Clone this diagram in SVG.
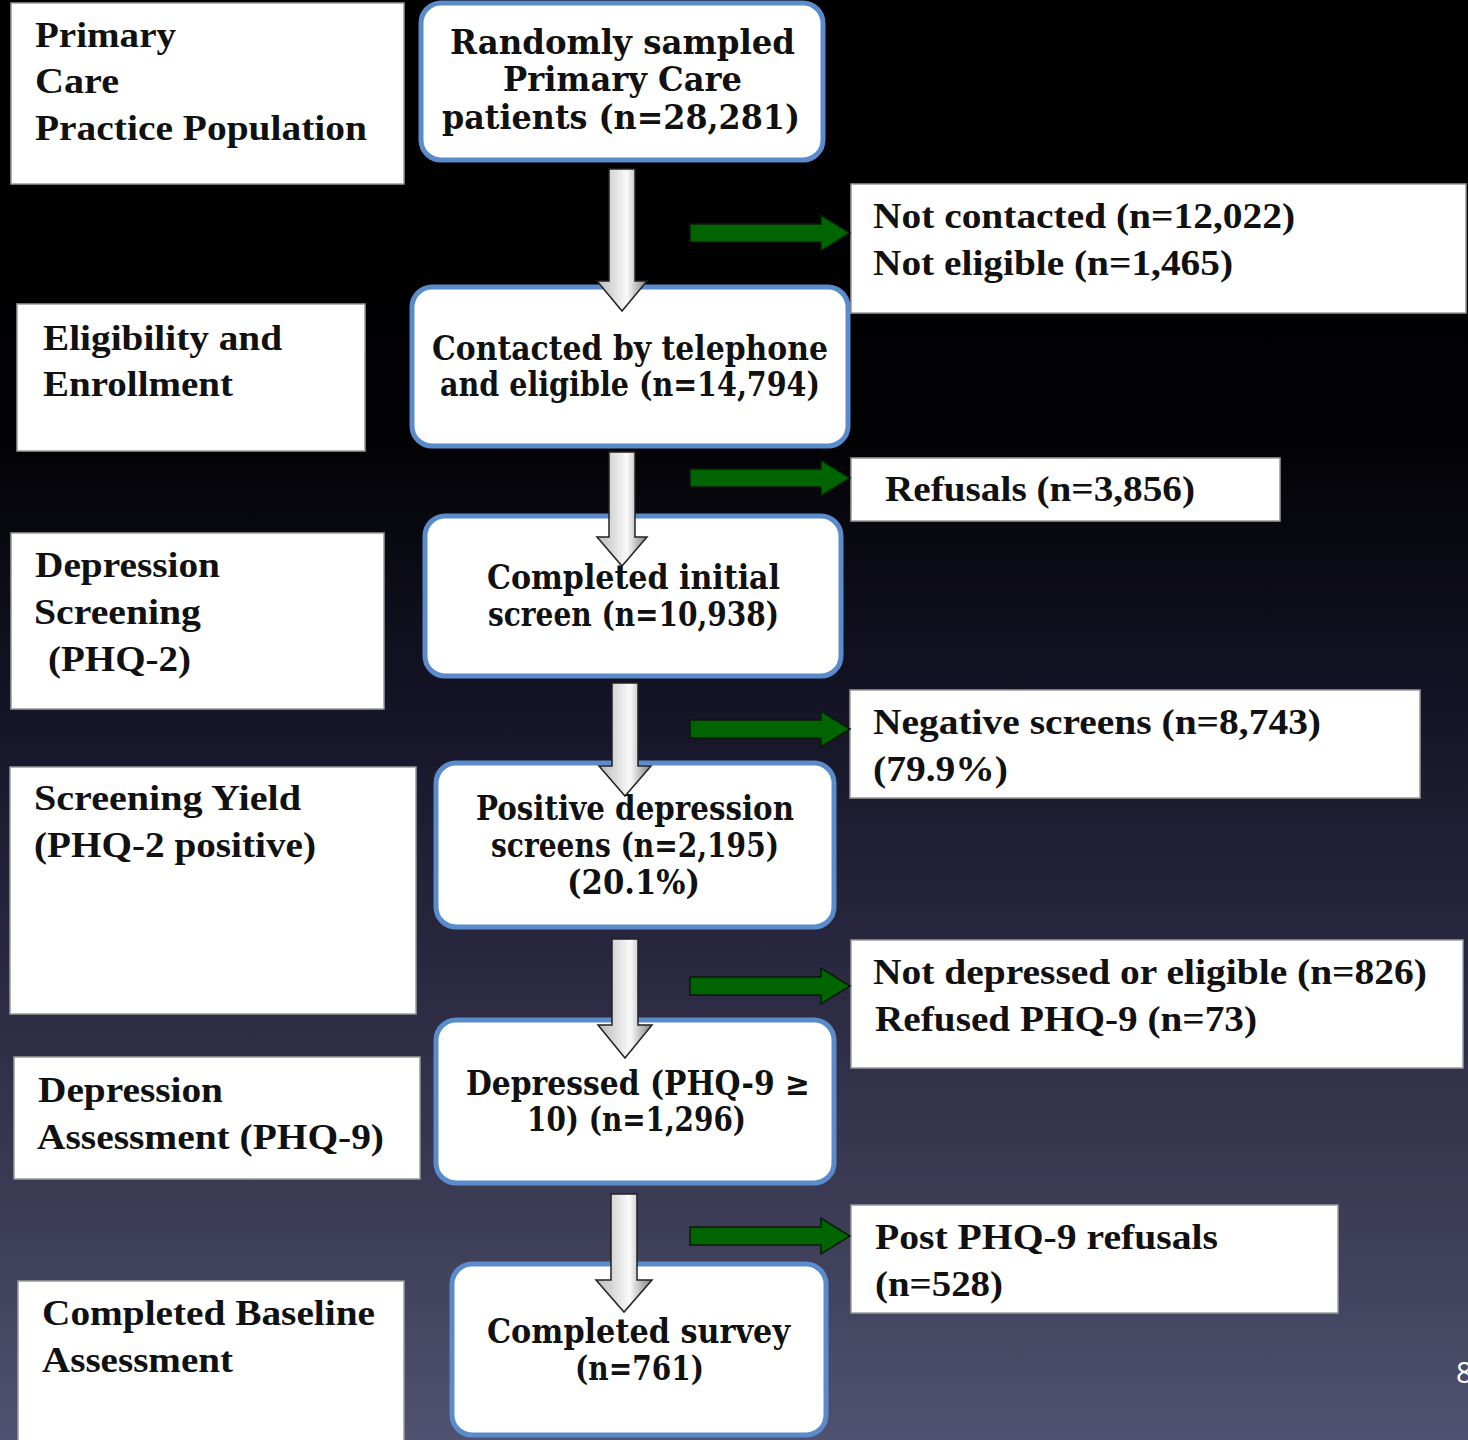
<svg xmlns="http://www.w3.org/2000/svg" width="1468" height="1440" viewBox="0 0 1468 1440">
<defs>
<linearGradient id="bg" x1="0" y1="0" x2="0" y2="1">
<stop offset="0" stop-color="#000000"/>
<stop offset="0.3" stop-color="#020204"/>
<stop offset="0.48" stop-color="#141325"/>
<stop offset="0.66" stop-color="#29273f"/>
<stop offset="0.85" stop-color="#3d3d57"/>
<stop offset="1" stop-color="#4f5270"/>
</linearGradient>
<linearGradient id="ga" x1="0" y1="0" x2="1" y2="0">
<stop offset="0" stop-color="#b8b8b8"/>
<stop offset="0.6" stop-color="#fafafa"/>
<stop offset="1" stop-color="#808080"/>
</linearGradient>
<style>
.lab{fill:#fff;stroke:#9a9a9a;stroke-width:1.5}
.mid{fill:#fff;stroke:#5a8ccc;stroke-width:5}
.t{font-family:'Liberation Serif',Tinos,'Times New Roman',Times,serif;font-weight:700;font-size:36px;fill:#111}
.m{font-family:'DejaVu Serif',serif;font-weight:700;font-size:33px;fill:#111}
.gray{fill:url(#ga);stroke:#222;stroke-width:1.5}
.green{fill:#006400;stroke:#0a1a0a;stroke-width:1.5}
</style>
</defs>
<rect x="0" y="0" width="1468" height="1440" fill="url(#bg)"/>

<g id="stage-primary-care">
<rect class="lab" x="11" y="3" width="393" height="181"/>
<text class="t" font-family="Liberation Serif" x="35" y="47" textLength="141" lengthAdjust="spacingAndGlyphs">Primary</text>
<text class="t" font-family="Liberation Serif" x="35" y="93" textLength="84" lengthAdjust="spacingAndGlyphs">Care</text>
<text class="t" font-family="Liberation Serif" x="35" y="140" textLength="332" lengthAdjust="spacingAndGlyphs">Practice Population</text>
</g>
<g id="stage-eligibility">
<rect class="lab" x="17" y="304" width="348" height="147"/>
<text class="t" x="43" y="350" textLength="239" lengthAdjust="spacingAndGlyphs">Eligibility and</text>
<text class="t" x="43" y="396" textLength="190" lengthAdjust="spacingAndGlyphs">Enrollment</text>
</g>
<g id="stage-screening">
<rect class="lab" x="11" y="533" width="373" height="176"/>
<text class="t" x="35" y="577" textLength="185" lengthAdjust="spacingAndGlyphs">Depression</text>
<text class="t" x="34" y="624" textLength="167" lengthAdjust="spacingAndGlyphs">Screening</text>
<text class="t" x="48" y="671" textLength="143" lengthAdjust="spacingAndGlyphs">(PHQ-2)</text>
</g>
<g id="stage-yield">
<rect class="lab" x="10" y="767" width="406" height="247"/>
<text class="t" x="34" y="810" textLength="267" lengthAdjust="spacingAndGlyphs">Screening Yield</text>
<text class="t" x="34" y="857" textLength="282" lengthAdjust="spacingAndGlyphs">(PHQ-2 positive)</text>
</g>
<g id="stage-assessment">
<rect class="lab" x="14" y="1057" width="406" height="122"/>
<text class="t" x="38" y="1102" textLength="185" lengthAdjust="spacingAndGlyphs">Depression</text>
<text class="t" x="37" y="1149" textLength="347" lengthAdjust="spacingAndGlyphs">Assessment (PHQ-9)</text>
</g>
<g id="stage-baseline">
<rect class="lab" x="18" y="1281" width="386" height="165"/>
<text class="t" x="42" y="1325" textLength="333" lengthAdjust="spacingAndGlyphs">Completed Baseline</text>
<text class="t" x="42" y="1372" textLength="191" lengthAdjust="spacingAndGlyphs">Assessment</text>
</g>

<g id="sampled">
<rect class="mid" x="421" y="3" width="402" height="157" rx="20"/>
<text class="m" x="450" y="54" textLength="345" lengthAdjust="spacingAndGlyphs">Randomly sampled</text>
<text class="m" x="503" y="91" textLength="239" lengthAdjust="spacingAndGlyphs">Primary Care</text>
<text class="m" x="442" y="129" textLength="358" lengthAdjust="spacingAndGlyphs">patients (n=28,281)</text>
</g>
<g id="contacted">
<rect class="mid" x="412" y="287" width="436" height="159" rx="20"/>
<text class="m" x="432" y="360" textLength="396" lengthAdjust="spacingAndGlyphs">Contacted by telephone</text>
<text class="m" x="440" y="396" textLength="380" lengthAdjust="spacingAndGlyphs">and eligible (n=14,794)</text>
</g>
<g id="initial-screen">
<rect class="mid" x="425" y="516" width="416" height="160" rx="20"/>
<text class="m" x="487" y="589" textLength="293" lengthAdjust="spacingAndGlyphs">Completed initial</text>
<text class="m" x="488" y="626" textLength="291" lengthAdjust="spacingAndGlyphs">screen (n=10,938)</text>
</g>
<g id="positive">
<rect class="mid" x="436" y="763" width="398" height="164" rx="20"/>
<text class="m" x="476" y="820" textLength="318" lengthAdjust="spacingAndGlyphs">Positive depression</text>
<text class="m" x="491" y="857" textLength="288" lengthAdjust="spacingAndGlyphs">screens (n=2,195)</text>
<text class="m" x="567" y="894" textLength="133" lengthAdjust="spacingAndGlyphs">(20.1%)</text>
</g>
<g id="depressed">
<rect class="mid" x="436" y="1020" width="398" height="163" rx="20"/>
<text class="m" x="466" y="1095" textLength="344" lengthAdjust="spacingAndGlyphs">Depressed (PHQ-9 ≥</text>
<text class="m" x="527" y="1131" textLength="219" lengthAdjust="spacingAndGlyphs">10) (n=1,296)</text>
</g>
<g id="survey">
<rect class="mid" x="452" y="1264" width="374" height="171" rx="20"/>
<text class="m" x="487" y="1343" textLength="303" lengthAdjust="spacingAndGlyphs">Completed survey</text>
<text class="m" x="575" y="1380" textLength="129" lengthAdjust="spacingAndGlyphs">(n=761)</text>
</g>

<g id="excl-contact">
<rect class="lab" x="851" y="184" width="615" height="129"/>
<text class="t" x="873" y="228" textLength="422" lengthAdjust="spacingAndGlyphs">Not contacted (n=12,022)</text>
<text class="t" x="873" y="275" textLength="360" lengthAdjust="spacingAndGlyphs">Not eligible (n=1,465)</text>
</g>
<g id="excl-refusals">
<rect class="lab" x="851" y="458" width="429" height="63"/>
<text class="t" x="885" y="501" textLength="310" lengthAdjust="spacingAndGlyphs">Refusals (n=3,856)</text>
</g>
<g id="excl-negative">
<rect class="lab" x="850" y="690" width="570" height="108"/>
<text class="t" x="873" y="734" textLength="448" lengthAdjust="spacingAndGlyphs">Negative screens (n=8,743)</text>
<text class="t" x="873" y="781" textLength="135" lengthAdjust="spacingAndGlyphs">(79.9%)</text>
</g>
<g id="excl-notdepressed">
<rect class="lab" x="851" y="940" width="612" height="128"/>
<text class="t" x="873" y="984" textLength="554" lengthAdjust="spacingAndGlyphs">Not depressed or eligible (n=826)</text>
<text class="t" x="875" y="1031" textLength="382" lengthAdjust="spacingAndGlyphs">Refused PHQ-9 (n=73)</text>
</g>
<g id="excl-post">
<rect class="lab" x="851" y="1205" width="487" height="108"/>
<text class="t" x="875" y="1249" textLength="343" lengthAdjust="spacingAndGlyphs">Post PHQ-9 refusals</text>
<text class="t" x="875" y="1296" textLength="128" lengthAdjust="spacingAndGlyphs">(n=528)</text>
</g>

<g id="connectors">
<path class="gray" d="M609,169 H635 V281 H647 L622,311 L597,281 H609 Z"/>
<path class="gray" d="M609,452 H635 V537 H647 L622,566 L597,537 H609 Z"/>
<path class="gray" d="M612,683 H638 V766 H651 L625,796 L599,766 H612 Z"/>
<path class="gray" d="M612,939 H638 V1025 H652 L625,1058 L598,1025 H612 Z"/>
<path class="gray" d="M611,1194 H637 V1280 H652 L624,1312 L596,1280 H611 Z"/>
<path class="green" d="M690,224 H821 V215 L850,233 L821,251 V242 H690 Z"/>
<path class="green" d="M690,469 H821 V460 L850,478 L821,496 V487 H690 Z"/>
<path class="green" d="M690,720 H821 V711 L850,729 L821,747 V738 H690 Z"/>
<path class="green" d="M690,977 H821 V968 L850,986 L821,1004 V995 H690 Z"/>
<path class="green" d="M690,1227 H821 V1218 L850,1236 L821,1254 V1245 H690 Z"/>
</g>

<text x="1456" y="1383" font-family="'Open Sans','Liberation Sans',sans-serif" font-size="29" fill="#ffffff">8</text>
</svg>
